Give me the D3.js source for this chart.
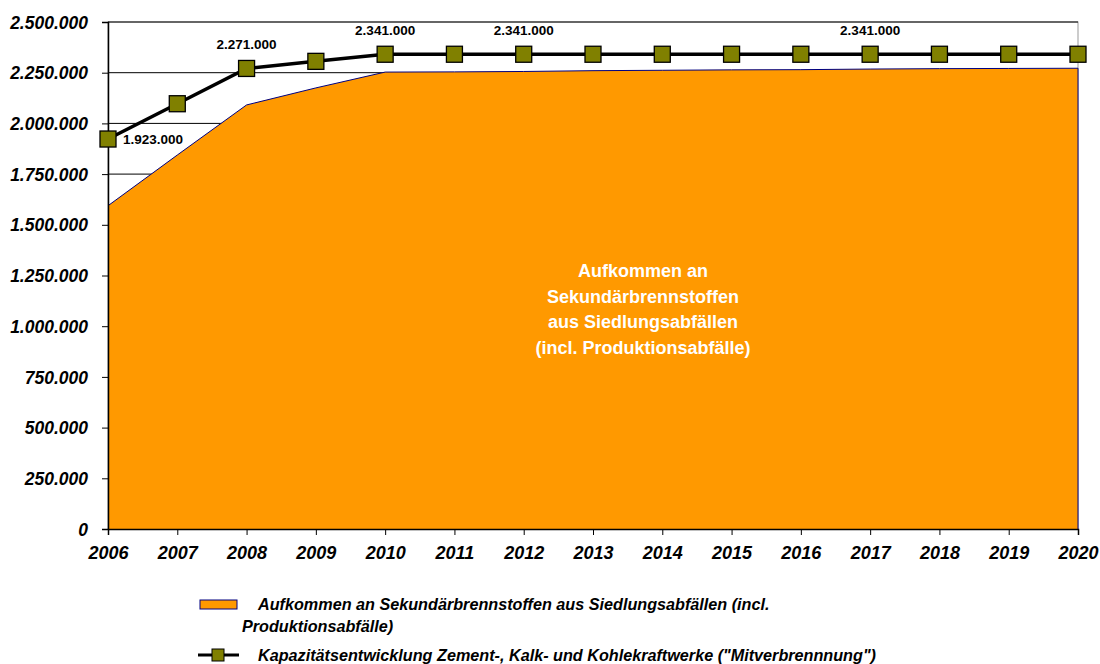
<!DOCTYPE html>
<meta charset="utf-8">
<script src="https://d3js.org/d3.v7.min.js"></script>
<style>
  body { margin: 0; background: #fff; }
  text { font-family: "Liberation Sans", Arial, sans-serif; }
</style>
<div id="my_dataviz"></div>
<script>
// years on the x axis
var years = [2006, 2007, 2008, 2009, 2010, 2011, 2012, 2013, 2014, 2015, 2016, 2017, 2018, 2019, 2020];
// area: Aufkommen an Sekundärbrennstoffen
var aufkommen = [1594000, 1844000, 2091000, 2175000, 2253000, 2254000, 2256000, 2260000, 2262000, 2264000, 2265000, 2268000, 2270000, 2271000, 2272000];
// line: Kapazitätsentwicklung
var kapazitaet = [1923000, 2097000, 2271000, 2306000, 2341000, 2341000, 2341000, 2341000, 2341000, 2341000, 2341000, 2341000, 2341000, 2341000, 2341000];
// which points carry a label
var labelYears = [2006, 2008, 2010, 2012, 2017];
var yTicks = [0, 250000, 500000, 750000, 1000000, 1250000, 1500000, 1750000, 2000000, 2250000, 2500000];

var legendArea = "Aufkommen an Sekundärbrennstoffen aus Siedlungsabfällen (incl.";
var legendArea2 = "Produktionsabfälle)";
var legendLine = "Kapazitätsentwicklung Zement-, Kalk- und Kohlekraftwerke (\"Mitverbrennnung\")";
var areaText = ["Aufkommen an", "Sekundärbrennstoffen", "aus Siedlungsabfällen", "(incl. Produktionsabfälle)"];

var margin = {top: 22, right: 22, bottom: 135, left: 108},
    width = 1100 - margin.left - margin.right,
    height = 664 - margin.top - margin.bottom;

var svgRoot = d3.select("#my_dataviz").append("svg")
    .attr("width", 1100).attr("height", 664);
var svg = svgRoot.append("g")
    .attr("transform", "translate(" + margin.left + "," + margin.top + ")");

var fmt = function(v) { return d3.format(",")(v).replace(/,/g, "."); };

var x = d3.scaleLinear().domain([2006, 2020]).range([0, width]);
var y = d3.scaleLinear().domain([0, 2500000]).range([height, 0]);

// plot border (top/right grey)
svg.append("rect")
    .attr("width", width).attr("height", height)
    .attr("fill", "none").attr("stroke", "#999").attr("stroke-width", 1);

// gridlines
svg.append("g").selectAll("line").data(yTicks.slice(1)).enter().append("line")
    .attr("x1", 0).attr("x2", width)
    .attr("y1", function(d) { return y(d); }).attr("y2", function(d) { return y(d); })
    .attr("stroke", "#000").attr("stroke-width", 1);

// area
var data = years.map(function(yr, i) { return {year: yr, a: aufkommen[i], k: kapazitaet[i]}; });
svg.append("path").datum(data)
    .attr("d", d3.area().x(function(d) { return x(d.year); }).y0(y(0)).y1(function(d) { return y(d.a); }))
    .attr("fill", "#FF9900").attr("stroke", "none");
svg.append("path").datum(data)
    .attr("d", d3.line().x(function(d) { return x(d.year); }).y(function(d) { return y(d.a); }))
    .attr("fill", "none").attr("stroke", "#000080").attr("stroke-width", 1);
svg.append("line")
    .attr("x1", x(2020)).attr("x2", x(2020)).attr("y1", y(aufkommen[aufkommen.length - 1])).attr("y2", y(0))
    .attr("stroke", "#000080").attr("stroke-width", 1);

// text inside area
svg.append("g").selectAll("text").data(areaText).enter().append("text")
    .attr("x", 535).attr("y", function(d, i) { return 255 + i * 25.5; })
    .attr("text-anchor", "middle").attr("fill", "#fff")
    .style("font-size", "18px").style("font-weight", "bold")
    .text(function(d) { return d; });

// axes
var xAxis = svg.append("g").attr("transform", "translate(0," + height + ")")
    .call(d3.axisBottom(x).tickValues(years).tickFormat(d3.format("d")).tickSize(6).tickPadding(11));
var yAxis = svg.append("g")
    .call(d3.axisLeft(y).tickValues(yTicks).tickFormat(fmt).tickSize(6).tickPadding(14));
[xAxis, yAxis].forEach(function(a) {
  a.select(".domain").attr("stroke", "#000").attr("stroke-width", 1.5);
  a.selectAll(".tick line").attr("stroke", "#000");
  a.selectAll("text").attr("fill", "#000")
    .style("font-family", "'Liberation Sans', Arial, sans-serif")
    .style("font-weight", "bold").style("font-style", "italic");
});
xAxis.selectAll("text").style("font-size", "18px");
yAxis.selectAll("text").style("font-size", "17.5px").attr("dy", "0.35em");

// line + markers
svg.append("path").datum(data)
    .attr("d", d3.line().x(function(d) { return x(d.year); }).y(function(d) { return y(d.k); }))
    .attr("fill", "none").attr("stroke", "#000").attr("stroke-width", 3.5);
svg.append("g").selectAll("rect").data(data).enter().append("rect")
    .attr("x", function(d) { return x(d.year) - 8; })
    .attr("y", function(d) { return y(d.k) - 8; })
    .attr("width", 16).attr("height", 16)
    .attr("fill", "#808000").attr("stroke", "#000").attr("stroke-width", 1.3);

// data labels
svg.append("g").selectAll("text").data(data.filter(function(d) { return labelYears.indexOf(d.year) >= 0; }))
  .enter().append("text")
    .attr("x", function(d) { return d.year === 2006 ? x(d.year) + 15 : x(d.year); })
    .attr("y", function(d) { return d.year === 2006 ? y(d.k) + 5 : y(d.k) - 19; })
    .attr("text-anchor", function(d) { return d.year === 2006 ? "start" : "middle"; })
    .style("font-size", "13.5px").style("font-weight", "bold")
    .text(function(d) { return fmt(d.k); });

// legend
var leg = svgRoot.append("g");
leg.append("rect").attr("x", 200).attr("y", 600).attr("width", 37).attr("height", 9)
    .attr("fill", "#FF9900").attr("stroke", "#000080").attr("stroke-width", 1);
leg.append("text").attr("x", 258).attr("y", 610).text(legendArea);
leg.append("text").attr("x", 242).attr("y", 632).text(legendArea2);
leg.append("line").attr("x1", 198).attr("x2", 239).attr("y1", 655).attr("y2", 655)
    .attr("stroke", "#000").attr("stroke-width", 3);
leg.append("rect").attr("x", 212).attr("y", 649).attr("width", 12).attr("height", 12)
    .attr("fill", "#808000").attr("stroke", "#000").attr("stroke-width", 1);
leg.append("text").attr("x", 258).attr("y", 661).text(legendLine);
leg.selectAll("text").style("font-size", "16.2px").style("font-weight", "bold").style("font-style", "italic");
</script>
